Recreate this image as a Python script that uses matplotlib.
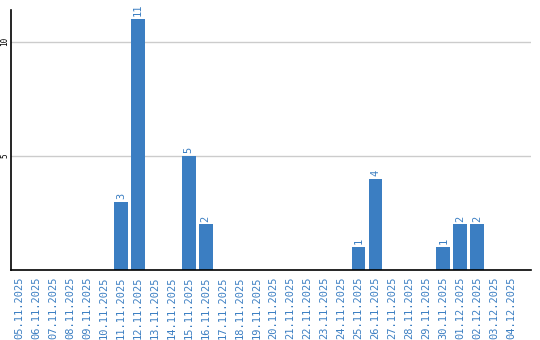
import matplotlib.pyplot as plt
import numpy as np

dates = ['05.11.2025', '06.11.2025', '07.11.2025', '08.11.2025', '09.11.2025',
         '10.11.2025', '11.11.2025', '12.11.2025', '13.11.2025', '14.11.2025',
         '15.11.2025', '16.11.2025', '17.11.2025', '18.11.2025', '19.11.2025',
         '20.11.2025', '21.11.2025', '22.11.2025', '23.11.2025', '24.11.2025',
         '25.11.2025', '26.11.2025', '27.11.2025', '28.11.2025', '29.11.2025',
         '30.11.2025', '01.12.2025', '02.12.2025', '03.12.2025', '04.12.2025']
counts = [0, 0, 0, 0, 0, 0, 3, 11, 0, 0, 5, 2, 0, 0, 0,
          0, 0, 0, 0, 0, 1, 4, 0, 0, 0, 1, 2, 2, 0, 0]
yticks = [5, 10]

blue = '#3b7ec2'
mono = 'DejaVu Sans Mono'

fig = plt.figure(figsize=(5.4, 3.4), dpi=100)
ax = fig.add_axes([0.0195, 0.206, 0.9635, 0.765])

x = np.arange(len(dates))
ax.bar(x, counts, width=0.82, color=blue, zorder=2)
for xi, v in zip(x, counts):
    if v > 0:
        ax.text(xi, v + 0.12, str(v), rotation=90, ha='center', va='bottom',
                color=blue, fontsize=7.5, family=mono)

ax.set_xlim(-0.5, 30.15)
ax.set_ylim(0, 11.4)
ax.set_xticks(x)
ax.set_xticklabels(dates, rotation=90, color=blue, fontsize=7.5, family=mono)
ax.set_yticks(yticks)
ax.set_yticklabels([str(t) for t in yticks], rotation=90, va='center',
                   fontsize=5.5, family=mono)
ax.tick_params(axis='both', length=0)
ax.tick_params(axis='x', pad=5)
ax.tick_params(axis='y', pad=1)
ax.grid(axis='y', color='#cccccc', linewidth=1, zorder=0)

for s in ['top', 'right']:
    ax.spines[s].set_visible(False)
ax.spines['left'].set_linewidth(1.2)
ax.spines['bottom'].set_linewidth(1.2)

fig.savefig('out.png', dpi=100)
